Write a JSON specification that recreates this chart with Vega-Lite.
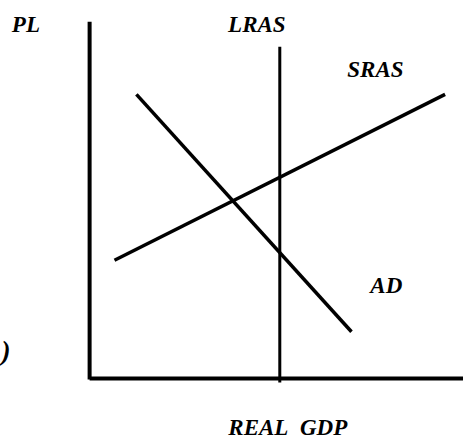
{
  "$schema": "https://vega.github.io/schema/vega-lite/v6.json",
  "width": 465,
  "height": 440,
  "autosize": {"type": "fit", "contains": "padding"},
  "padding": 0,
  "background": "white",
  "config": {"view": {"stroke": null}},
  "datasets": {
    "segments": [
      {"name": "Y axis", "x": 0, "y": 359, "x2": 0, "y2": -1, "w": 4},
      {"name": "X axis", "x": 0, "y": 0, "x2": 375, "y2": 0, "w": 4},
      {"name": "LRAS", "x": 191, "y": 334, "x2": 191, "y2": -4, "w": 3},
      {"name": "SRAS", "x": 25, "y": 119, "x2": 357, "y2": 286, "w": 3.5},
      {"name": "AD", "x": 47, "y": 286, "x2": 263, "y2": 47, "w": 3.5}
    ],
    "labels": [
      {"label": "PL", "x": -64, "y": 349, "s": 23},
      {"label": "LRAS", "x": 168, "y": 349, "s": 23},
      {"label": "SRAS", "x": 287, "y": 303, "s": 23},
      {"label": "AD", "x": 298, "y": 86, "s": 23},
      {"label": "REAL\u00a0\u00a0GDP", "x": 199, "y": -57, "s": 23},
      {"label": ")", "x": -84, "y": 19, "s": 27}
    ]
  },
  "layer": [
    {
      "data": {"name": "segments"},
      "mark": {"type": "rule", "color": "black", "strokeCap": "butt"},
      "encoding": {
        "x": {"field": "x", "type": "quantitative", "scale": {"domain": [-90, 375], "nice": false, "zero": false}, "axis": null},
        "y": {"field": "y", "type": "quantitative", "scale": {"domain": [-59, 381], "nice": false, "zero": false}, "axis": null},
        "x2": {"field": "x2"},
        "y2": {"field": "y2"},
        "strokeWidth": {"field": "w", "type": "quantitative", "scale": null, "legend": null}
      }
    },
    {
      "data": {"name": "labels"},
      "mark": {"type": "text", "font": "Liberation Serif", "fontStyle": "italic", "fontWeight": "bold", "align": "center", "baseline": "alphabetic", "color": "black"},
      "encoding": {
        "x": {"field": "x", "type": "quantitative"},
        "y": {"field": "y", "type": "quantitative"},
        "text": {"field": "label"},
        "size": {"field": "s", "type": "quantitative", "scale": null, "legend": null}
      }
    }
  ]
}
